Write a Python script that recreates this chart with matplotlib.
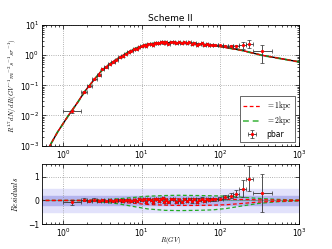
import matplotlib
matplotlib.use("Agg")
import matplotlib.pyplot as plt
import numpy as np

plt.rcParams['mathtext.fontset'] = 'cm'
plt.rcParams['font.family'] = ['DejaVu Sans']

# ---- data ----
bin_edges = [1.00, 1.71, 2.00, 2.31, 2.67, 3.00, 3.35, 3.73, 4.12, 4.54, 5.00, 5.49, 6.00,
             6.54, 7.10, 7.69, 8.30, 8.95, 9.62, 10.3, 11.0, 11.8, 12.6, 13.4, 14.2, 15.1,
             16.1, 17.0, 18.0, 19.0, 20.0, 21.1, 22.8, 24.7, 26.7, 28.8, 31.1, 33.5, 36.1,
             38.9, 41.9, 45.1, 48.5, 52.2, 56.1, 60.3, 64.8, 69.7, 74.9, 80.5, 93.0, 108,
             125, 147, 175, 211, 259, 450]
rig = [1.31, 1.85, 2.15, 2.48, 2.83, 3.17, 3.54, 3.92, 4.33, 4.77, 5.24, 5.74, 6.26, 6.81,
       7.39, 7.99, 8.62, 9.28, 9.95, 10.6, 11.4, 12.2, 13.0, 13.8, 14.6, 15.6, 16.5, 17.5,
       18.5, 19.5, 20.5, 21.9, 23.7, 25.7, 27.7, 29.9, 32.3, 34.8, 37.5, 40.4, 43.5, 46.8,
       50.3, 54.1, 58.2, 62.5, 67.2, 72.3, 77.6, 86.5, 100, 116, 136, 160, 194, 234, 341]
flux = [0.0138, 0.0587, 0.0931, 0.159, 0.223, 0.337, 0.406, 0.525, 0.588, 0.717, 0.847,
        0.941, 1.121, 1.308, 1.392, 1.581, 1.622, 1.90, 1.988, 2.173, 2.062, 2.408, 2.382,
        2.209, 2.579, 2.594, 2.438, 2.714, 2.801, 2.451, 2.668, 2.418, 2.741, 2.83, 2.463,
        2.704, 2.451, 2.703, 2.444, 2.664, 2.362, 2.552, 2.237, 2.423, 2.462, 2.173, 2.321,
        2.225, 2.226, 2.153, 2.106, 2.052, 2.021, 1.987, 2.13, 2.432, 1.33]
flux_err = [0.0018, 0.004, 0.0057, 0.0077, 0.0115, 0.013, 0.016, 0.020, 0.024, 0.028, 0.033,
            0.039, 0.044, 0.051, 0.057, 0.062, 0.068, 0.072, 0.077, 0.082, 0.087, 0.089,
            0.092, 0.094, 0.096, 0.099, 0.10, 0.10, 0.10, 0.10, 0.10, 0.10, 0.10, 0.10, 0.10,
            0.10, 0.10, 0.13, 0.13, 0.12, 0.12, 0.12, 0.12, 0.12, 0.11, 0.11, 0.13, 0.13,
            0.13, 0.12, 0.14, 0.16, 0.18, 0.23, 0.53, 0.67, 0.8]
resid = [-0.08, 0.03, -0.02, 0.04, -0.03, 0.02, -0.01, 0.03, -0.02, 0.01,
         0.02, -0.03, 0.01, 0.03, -0.02, 0.02, -0.04, 0.05, 0.03, 0.06,
         -0.05, 0.08, 0.04, -0.06, 0.07, 0.05, -0.04, 0.06, 0.09, -0.05,
         0.03, -0.07, 0.05, 0.08, -0.06, 0.04, -0.05, 0.06, -0.03, 0.07,
         -0.04, 0.05, -0.06, 0.04, 0.08, -0.03, 0.06, 0.03, 0.05, 0.05,
         0.08, 0.14, 0.21, 0.29, 0.5, 0.93, 0.33]
resid_err = [0.12, 0.07, 0.06, 0.05, 0.05, 0.04, 0.04, 0.04, 0.04, 0.04,
             0.04, 0.04, 0.04, 0.04, 0.04, 0.04, 0.04, 0.04, 0.04, 0.04,
             0.04, 0.04, 0.04, 0.04, 0.04, 0.04, 0.04, 0.04, 0.04, 0.04,
             0.04, 0.04, 0.04, 0.04, 0.04, 0.04, 0.04, 0.05, 0.05, 0.05,
             0.05, 0.05, 0.05, 0.05, 0.05, 0.05, 0.06, 0.06, 0.06, 0.06,
             0.07, 0.09, 0.11, 0.15, 0.37, 0.53, 0.8]

# model curves
model_R = [0.6, 0.68, 0.85, 1.17, 1.5, 1.91, 2.45, 3.13, 4.0, 5.4, 7.1, 8.4, 11.2, 16.7,
           27, 44.6, 73, 93, 186, 335, 1000]
model_best = [0.0006, 0.001, 0.0028, 0.0100, 0.025, 0.065, 0.147, 0.316, 0.53, 0.88, 1.35,
              1.65, 2.15, 2.55, 2.62, 2.45, 2.15, 2.0, 1.45, 1.0, 0.6]
model_1kpc = [0.0006, 0.001, 0.0028, 0.0101, 0.0252, 0.0655, 0.148, 0.318, 0.535, 0.89,
              1.37, 1.68, 2.18, 2.57, 2.63, 2.44, 2.13, 1.98, 1.44, 1.0, 0.6]
model_2kpc = [0.0006, 0.001, 0.0028, 0.0099, 0.0248, 0.0645, 0.146, 0.314, 0.528, 0.885,
              1.37, 1.70, 2.22, 2.62, 2.68, 2.48, 2.17, 2.01, 1.45, 0.99, 0.6]

band_R = [0.5, 1, 2, 3, 5, 8, 12, 20, 30, 50, 80, 120, 200, 300, 500, 1000]
green_up = [0, 0, 0.01, 0.03, 0.07, 0.13, 0.18, 0.21, 0.22, 0.21, 0.2, 0.18, 0.13, 0.09, 0.05, 0.02]
green_lo = [0, 0, -0.02, -0.06, -0.14, -0.26, -0.36, -0.42, -0.43, -0.42, -0.4, -0.34, -0.22, -0.13, -0.06, -0.02]
red_up = [0, 0, 0.01, 0.02, 0.03, 0.05, 0.06, 0.07, 0.07, 0.07, 0.06, 0.05, 0.04, 0.03, 0.02, 0.01]
red_lo = [0, 0, -0.01, -0.03, -0.07, -0.12, -0.17, -0.2, -0.21, -0.21, -0.2, -0.18, -0.12, -0.07, -0.04, -0.01]

# ---- figure ----
fig = plt.figure(figsize=(3.32, 2.49), dpi=100)
ax1 = fig.add_axes([0.1265, 0.415, 0.774, 0.4846])
ax2 = fig.add_axes([0.1265, 0.1004, 0.774, 0.241])

xerr_lo = [r - lo for r, lo in zip(rig, bin_edges[:-1])]
xerr_hi = [hi - r for r, hi in zip(rig, bin_edges[1:])]

fs = 5.5
for ax in (ax1, ax2):
    ax.set_xscale('log')
    ax.set_xlim(0.54, 1000)
    ax.grid(True, which='major', linestyle=':', color='0.6', linewidth=0.6)
    ax.tick_params(which='both', direction='in', top=True, right=True, labelsize=fs,
                   width=0.5, pad=2)
    ax.tick_params(which='major', length=3)
    ax.tick_params(which='minor', length=1.5)
    for s in ax.spines.values():
        s.set_linewidth(0.6)

# top panel
ax1.set_yscale('log')
ax1.set_ylim(1e-3, 10)
ax1.plot(model_R, model_best, color='black', lw=1.0, zorder=3)
ax1.plot(model_R, model_2kpc, color='#22aa22', lw=1.4, ls='--', alpha=0.7, dashes=(3, 2),
         label=r'$=2\mathrm{kpc}$', zorder=4)
ax1.plot(model_R, model_1kpc, color='red', lw=0.9, ls='--', dashes=(3, 2),
         label=r'$=1\mathrm{kpc}$', zorder=5)
eb = ax1.errorbar(rig, flux, yerr=flux_err, xerr=[xerr_lo, xerr_hi], fmt='o', ms=1.3,
                  mfc='red', mec='red', ecolor='0.2', elinewidth=0.6, capsize=1.2,
                  capthick=0.5, label='pbar', zorder=6)
ax1.set_title('Scheme II', fontsize=6.5, pad=3)
ax1.set_ylabel(r'$R^{1.7}dN/dR(GV^{-1}m^{-2}s^{-1}sr^{-1})$', fontsize=5, labelpad=1)
h, l = ax1.get_legend_handles_labels()
order = [l.index(r'$=1\mathrm{kpc}$'), l.index(r'$=2\mathrm{kpc}$'), l.index('pbar')]
leg = ax1.legend([h[i] for i in order], [l[i] for i in order], loc='lower right',
                 fontsize=5.5, handlelength=2.2, borderpad=0.4, labelspacing=0.3,
                 fancybox=False, framealpha=1, edgecolor='0.3')
leg.get_frame().set_linewidth(0.6)

# bottom panel
ax2.set_ylim(-1, 1.55)
ax2.set_yticks([-1, 0, 1])
ax2.axhspan(-0.5, 0.5, color='#e2e2fb', zorder=0)
ax2.axhspan(-0.2, 0.2, color='#b4b4ee', zorder=0)
ax2.axhline(0, color='#5a9a9a', lw=0.8, zorder=1)
ax2.plot(band_R, green_up, color='#22aa22', ls='--', lw=0.9, dashes=(3, 2), zorder=2)
ax2.plot(band_R, green_lo, color='#22aa22', ls='--', lw=0.9, dashes=(3, 2), zorder=2)
ax2.plot(band_R, red_up, color='red', ls='--', lw=0.9, dashes=(3, 2), zorder=2)
ax2.plot(band_R, red_lo, color='red', ls='--', lw=0.9, dashes=(3, 2), zorder=2)
ax2.errorbar(rig, resid, yerr=resid_err, xerr=[xerr_lo, xerr_hi], fmt='o', ms=1.3,
             mfc='red', mec='red', ecolor='0.2', elinewidth=0.6, capsize=1.2,
             capthick=0.5, zorder=6)
ax2.set_ylabel(r'$Residuals$', fontsize=5.5, labelpad=6)
ax2.set_xlabel(r'$R(GV)$', fontsize=5)
ax2.xaxis.set_label_coords(0.5, -0.19)

fig.savefig('out.png', dpi=100, facecolor='white')
